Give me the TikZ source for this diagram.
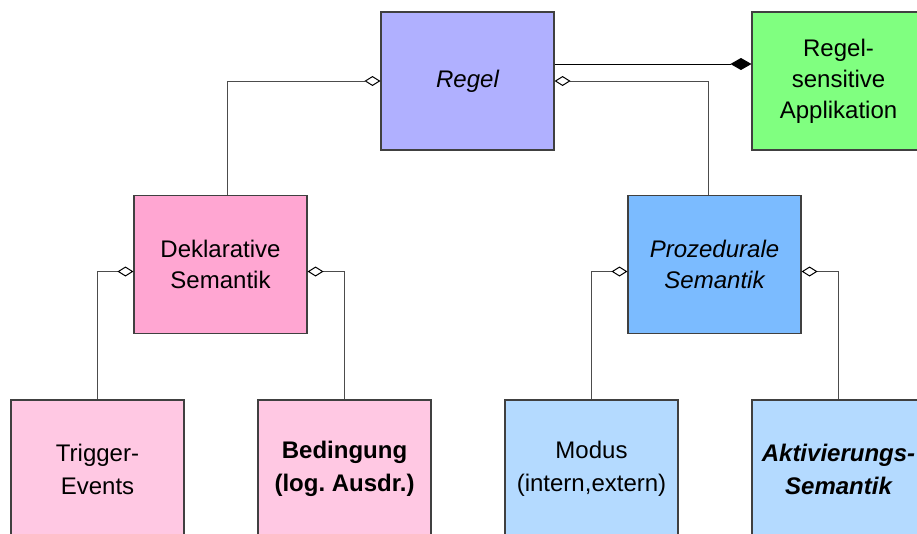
\documentclass[tikz,border=0pt]{standalone}
\usepackage{fontspec}
\setmainfont{Liberation Sans}
\usetikzlibrary{arrows.meta}
\frenchspacing

\definecolor{regelblue}{RGB}{176,176,255}
\definecolor{appgreen}{RGB}{128,255,128}
\definecolor{dekpink}{RGB}{255,166,210}
\definecolor{leafpink}{RGB}{255,200,227}
\definecolor{prozblue}{RGB}{123,187,255}
\definecolor{leafblue}{RGB}{180,218,255}

\tikzset{
  cls/.style={draw=black!75, line width=1.1pt, minimum width=173pt, minimum height=138pt,
    inner sep=0pt, align=center, font=\fontsize{24}{31}\selectfont},
  leaf/.style={cls, font=\fontsize{24}{33}\selectfont},
  link/.style={draw=black!70, line width=1pt},
  agg/.style={link, -{Diamond[open, length=16pt, width=10pt, line width=1pt, black]}},
  comp/.style={link, draw=black, -{Diamond[length=21pt, width=12pt, black]}}
}

\begin{document}
\begin{tikzpicture}[x=1pt, y=-1pt]
  \useasboundingbox (0,0) rectangle (917,533);
  \fill[white] (0,0) rectangle (917,533);
  \clip (0,0) rectangle (917,533);

  % classes
  \node[cls, fill=regelblue] (regel) at (467.5,81) {\itshape Regel};
  \node[cls, fill=appgreen] (app) at (838.5,81) {Regel-\\sensitive\\Applikation};
  \node[cls, fill=dekpink] (dek) at (220.5,264.5) {Deklarative\\Semantik};
  \node[cls, fill=prozblue] (proz) at (714.5,264.5) {\itshape Prozedurale\\\itshape Semantik};
  \node[leaf, fill=leafpink] (trig) at (97.5,469) {Trigger-\\Events};
  \node[leaf, fill=leafpink] (bed) at (344.5,469) {\bfseries Bedingung\\\bfseries (log. Ausdr.)};
  \node[leaf, fill=leafblue] (mod) at (591.5,469) {Modus\\(intern,extern)};
  \node[leaf, fill=leafblue] (akt) at (838.5,469) {\bfseries\itshape Aktivierungs-\\\bfseries\itshape Semantik};

  % composition: application owns the rule
  \coordinate (rg) at ([yshift=17pt]regel.east);
  \draw[comp] (rg) -- (app.west |- rg);

  % aggregations
  \draw[agg] ([xshift=6.5pt]dek.north) |- (regel.west);
  \draw[agg] ([xshift=-6.5pt]proz.north) |- (regel.east);
  \draw[agg] (trig.north) |- ([yshift=-7pt]dek.west);
  \draw[agg] (bed.north) |- ([yshift=-7pt]dek.east);
  \draw[agg] (mod.north) |- ([yshift=-7pt]proz.west);
  \draw[agg] (akt.north) |- ([yshift=-7pt]proz.east);
\end{tikzpicture}
\end{document}
